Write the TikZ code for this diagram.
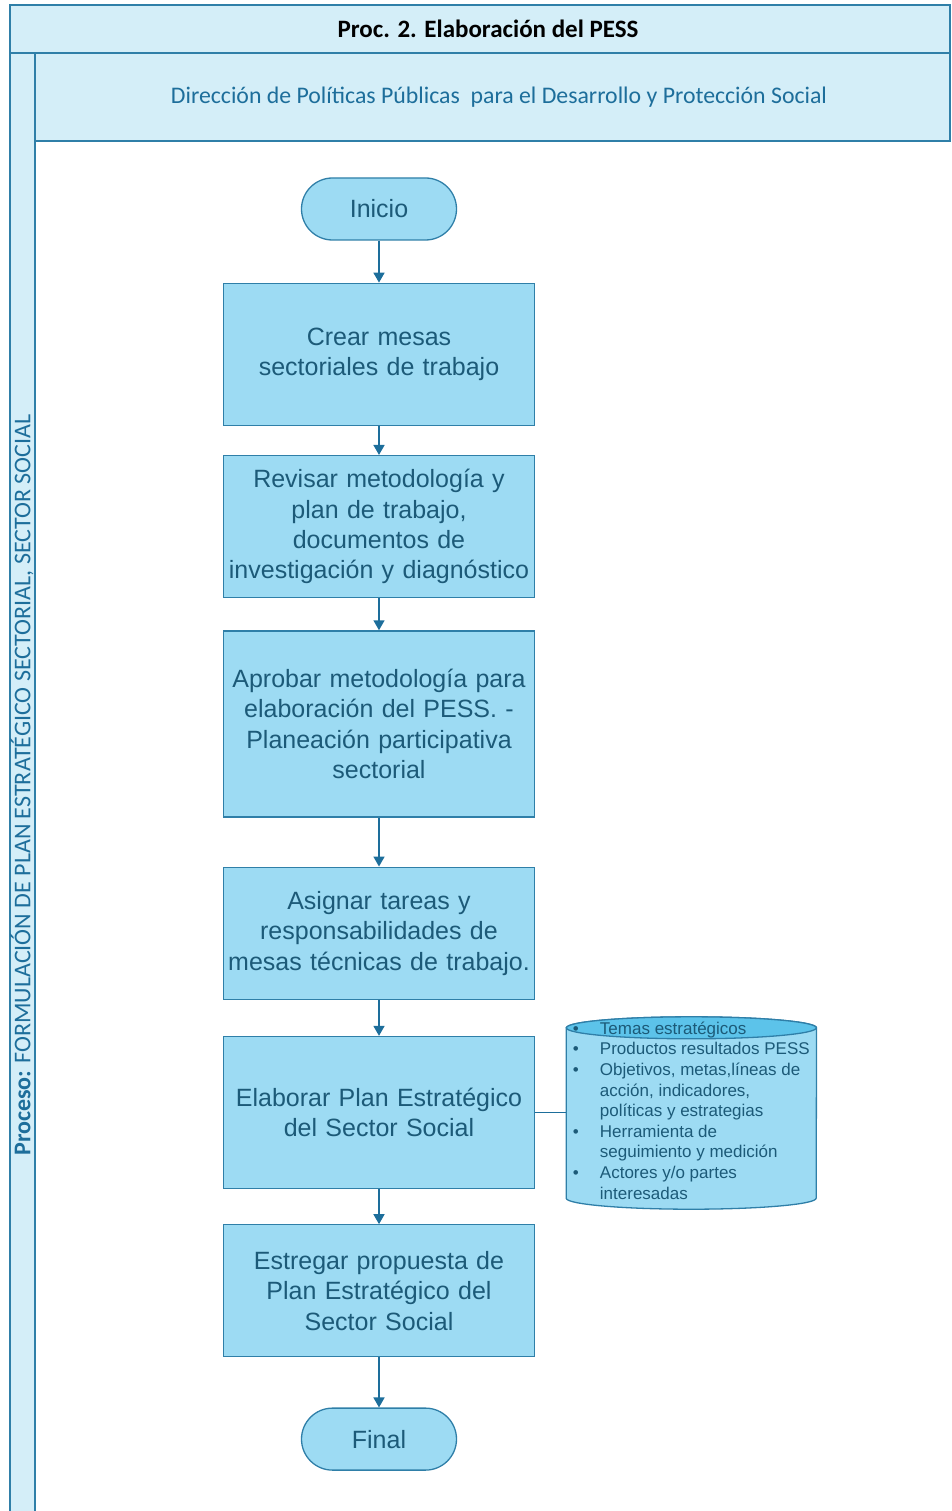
\documentclass[tikz,border=0pt]{standalone}
\usepackage{fontspec}
\setmainfont{Liberation Sans}
\newfontfamily\lanefont{Carlito}
\usetikzlibrary{arrows.meta, positioning, backgrounds}
\definecolor{cfill}{HTML}{9DDBF3}
\definecolor{cline}{HTML}{2F7FA8}
\definecolor{ctext}{HTML}{1C5A78}
\definecolor{clane}{HTML}{D4EEF8}
\definecolor{cend}{HTML}{5CC3EA}
\definecolor{carrow}{HTML}{1D6E9B}

\begin{document}
\begin{tikzpicture}[
    x=1pt, y=-1pt,
    every node/.style={font=\fontsize{25}{30.4}\selectfont, text=ctext},
    box/.style={draw=cline, fill=cfill, line width=1.3pt, text width=305pt, inner sep=3pt, align=center},
    term/.style={draw=cline, fill=cfill, line width=1.3pt, rounded corners=31pt, minimum width=155pt, minimum height=62pt},
    flow/.style={-{Triangle[length=10pt,width=11pt]}, line width=1.6pt, carrow},
    lane/.style={draw=cline, fill=clane, line width=1.3pt}
]
\useasboundingbox (0,0) rectangle (951,1511);

%% Pool and lane
\draw[lane] (10,5) rectangle (950,53);
\node[font=\lanefont\bfseries\fontsize{25}{28}\selectfont, text=black] (titulo) at (488,29) {Proc. 2. Elaboración del PESS};
\draw[lane] (10,53) rectangle (35,1513);
\draw[lane] (35,53) rectangle (950,141);
\draw[cline, line width=1.3pt] (35,141) -- (35,1513);
\node[font=\lanefont\fontsize{23.8}{28}\selectfont, text=carrow] (area) at (499,97) {Dirección de Políticas Públicas\ \ para el Desarrollo y Protección Social};
\node[font=\lanefont\fontsize{24}{28}\selectfont, text=carrow, rotate=90] (proceso) at (22,785) {\textbf{Proceso:} FORMULACIÓN DE PLAN ESTRATÉGICO SECTORIAL, SECTOR SOCIAL};

%% Flow
\node[term] (inicio) at (379,209) {Inicio};
\node[box, minimum height=142pt, below=42pt of inicio] (crear) {Crear mesas\\sectoriales de trabajo};
\node[box, minimum height=142pt, below=29pt of crear] (revisar) {Revisar metodología y\\plan de trabajo,\\documentos de\\investigación y diagnóstico};
\node[box, minimum height=186pt, below=32pt of revisar] (aprobar) {Aprobar metodología para\\elaboración del PESS. -\\Planeación participativa\\sectorial};
\node[box, minimum height=132pt, below=49pt of aprobar] (asignar) {Asignar tareas y\\responsabilidades de\\mesas técnicas de trabajo.};
\node[box, minimum height=152pt, below=36pt of asignar] (elab) {Elaborar Plan Estratégico\\del Sector Social};
\node[box, minimum height=132pt, below=35pt of elab] (entregar) {Estregar propuesta de\\Plan Estratégico del\\Sector Social};
\node[term, below=50pt of entregar] (final) {Final};

%% Data store
\node[minimum width=250pt, minimum height=193pt, inner sep=0pt, right=31pt of elab,
      font=\fontsize{17}{20.6}\selectfont] (datos) {%
  \begin{tabular}{@{}p{27pt}@{}l@{}}
  \textbullet & Temas estratégicos\\
  \textbullet & Productos resultados PESS\\
  \textbullet & Objetivos, metas,líneas de\\
   & acción, indicadores,\\
   & políticas y estrategias\\
  \textbullet & Herramienta de\\
   & seguimiento y medición\\
  \textbullet & Actores y/o partes\\
   & interesadas
  \end{tabular}};
\begin{scope}[on background layer]
\path[draw=cline, fill=cfill, line width=1.3pt] ([yshift=-12pt]datos.north west) -- ([yshift=11pt]datos.south west)
    arc[start angle=180, end angle=360, x radius=125pt, y radius=11pt] -- ([yshift=-12pt]datos.north east)
    arc[start angle=0, end angle=180, x radius=125pt, y radius=11pt] -- cycle;
\path[draw=cline, fill=cend, line width=1.3pt] ([yshift=-12pt]datos.north) ellipse[x radius=125pt, y radius=11pt];
\end{scope}

%% Arrows
\draw[flow] (inicio) -- (crear);
\draw[flow] (crear) -- (revisar);
\draw[flow] (revisar) -- (aprobar);
\draw[flow] (aprobar) -- (asignar);
\draw[flow] (asignar) -- (elab);
\draw[flow] (elab) -- (entregar);
\draw[flow] (entregar) -- (final);
\draw[carrow, line width=1.3pt] (elab.east) -- (datos.west);
\end{tikzpicture}
\end{document}
